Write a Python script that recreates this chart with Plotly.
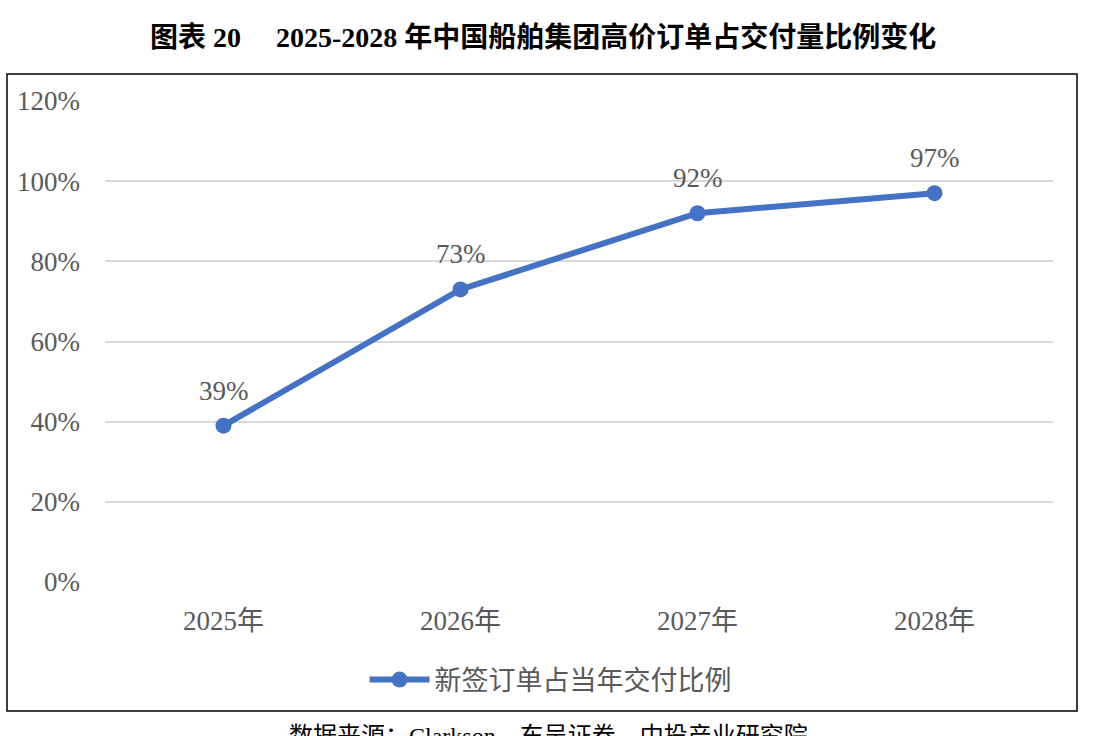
import plotly.graph_objects as go

categories = ["2025年", "2026年", "2027年", "2028年"]
values = [39, 73, 92, 97]
value_labels = ["39%", "73%", "92%", "97%"]
series_name = "新签订单占当年交付比例"
y_ticks = [0, 20, 40, 60, 80, 100, 120]
y_tick_labels = ["0%", "20%", "40%", "60%", "80%", "100%", "120%"]

SERIF = "Liberation Serif, Times New Roman, Noto Sans CJK SC, serif"
BLUE = "#4472C4"
GREY = "#595959"
FS = 27

fig = go.Figure()
fig.add_trace(go.Scatter(
    x=categories, y=values, name=series_name,
    mode="lines+markers",
    line=dict(color=BLUE, width=6),
    marker=dict(color=BLUE, size=16),
    cliponaxis=False,
))

for c, v, t in zip(categories, values, value_labels):
    fig.add_annotation(x=c, y=v, text=t, showarrow=False, yshift=35,
                       xanchor="center", yanchor="middle",
                       font=dict(family=SERIF, size=FS, color=GREY))

W, H = 1100, 736
L, R, T, B = 105, 47, 101, 154
pw, ph = W - L - R, H - T - B

def px(x):
    return (x - L) / pw

def py(y):
    return (H - B - y) / ph

fig.add_shape(type="rect", xref="paper", yref="paper",
              x0=px(7), x1=px(1077), y0=py(711), y1=py(74),
              line=dict(color="#000000", width=1.5), fillcolor="rgba(0,0,0,0)")

fig.add_annotation(text="<b>图表 20&nbsp;&nbsp;&nbsp;&nbsp;&nbsp;2025-2028 年中国船舶集团高价订单占交付量比例变化</b>",
                   xref="paper", yref="paper", x=px(543), y=py(37),
                   xanchor="center", yanchor="middle", showarrow=False,
                   font=dict(family=SERIF, size=28, color="#000000"))

fig.add_annotation(text="数据来源：Clarkson，东吴证券，中投产业研究院",
                   xref="paper", yref="paper", x=px(548), y=py(721),
                   xanchor="center", yanchor="top", showarrow=False,
                   font=dict(family=SERIF, size=24, color="#000000"))

fig.update_layout(
    width=W, height=H,
    margin=dict(l=L, r=R, t=T, b=B),
    paper_bgcolor="white", plot_bgcolor="white",
    showlegend=True,
    legend=dict(orientation="h", x=0.47, xanchor="center", y=py(680), yanchor="middle",
                font=dict(family=SERIF, size=FS, color=GREY), itemwidth=60),
    xaxis=dict(range=[-0.5, 3.5], showgrid=False, showline=False, ticks="",
               tickfont=dict(family=SERIF, size=FS, color=GREY), ticklabelstandoff=20),
    yaxis=dict(range=[0, 120], tickvals=y_ticks, ticktext=y_tick_labels,
               showgrid=True, gridcolor="#D9D9D9", gridwidth=1.5, zeroline=False,
               showline=False, ticks="", ticklabelstandoff=24,
               tickfont=dict(family=SERIF, size=FS, color=GREY)),
)

fig.write_html("out.html")
